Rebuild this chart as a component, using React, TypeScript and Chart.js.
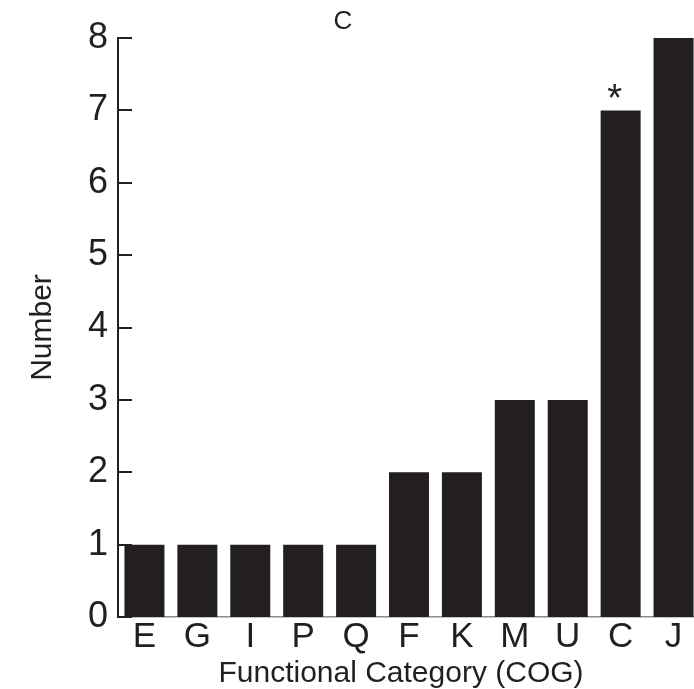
import React, { useEffect, useRef } from 'react';
import { Chart, registerables } from 'chart.js';

Chart.register(...registerables);

const categories = ['E', 'G', 'I', 'P', 'Q', 'F', 'K', 'M', 'U', 'C', 'J'];
const counts = [1, 1, 1, 1, 1, 2, 2, 3, 3, 7, 8];
const marks = ['', '', '', '', '', '', '', '', '', '*', ''];
const yTicks = [0, 1, 2, 3, 4, 5, 6, 7, 8];
const chartTitle = 'C';
const xTitle = 'Functional Category (COG)';
const yTitle = 'Number';

const INK = '#231f20';
const FONT = '"Liberation Sans", Arial, Helvetica, sans-serif';

const overlay = {
  id: 'overlay',
  afterDraw(chart: any) {
    const ctx = chart.ctx as CanvasRenderingContext2D;
    const area = chart.chartArea;
    const ys = chart.scales.y;
    ctx.save();
    // inward tick marks on the y axis
    ctx.strokeStyle = INK;
    ctx.lineWidth = 2;
    yTicks.forEach((v) => {
      const py = Math.round(ys.getPixelForValue(v));
      ctx.beginPath();
      ctx.moveTo(area.left - 1, py);
      ctx.lineTo(area.left + 14, py);
      ctx.stroke();
    });
    // significance marks
    ctx.fillStyle = INK;
    ctx.textAlign = 'center';
    ctx.textBaseline = 'alphabetic';
    ctx.font = `38px ${FONT}`;
    const meta = chart.getDatasetMeta(0);
    marks.forEach((m, i) => {
      if (!m) return;
      const bar = meta.data[i];
      ctx.fillText(m, bar.x - 6, bar.y + 1);
    });
    // panel title
    ctx.font = `26px ${FONT}`;
    ctx.fillText(chartTitle, 343, 29);
    // x axis title
    ctx.font = `30px ${FONT}`;
    ctx.fillText(xTitle, 401, 682);
    ctx.restore();
  },
};

export default function App() {
  const ref = useRef<HTMLCanvasElement | null>(null);
  useEffect(() => {
    document.body.style.margin = '0';
    const canvas = ref.current;
    if (!canvas) return;
    const chart = new Chart(canvas, {
      type: 'bar',
      data: {
        labels: categories,
        datasets: [
          {
            data: counts,
            backgroundColor: INK,
            borderWidth: 0,
            categoryPercentage: 1,
            barPercentage: 0.756,
          },
        ],
      },
      options: {
        responsive: false,
        animation: false,
        devicePixelRatio: 1,
        layout: { padding: { top: 38, right: 20, bottom: 0, left: 0 } },
        plugins: {
          legend: { display: false },
          tooltip: { enabled: false },
          title: { display: false },
        },
        scales: {
          x: {
            z: 1,
            grid: { display: false, drawTicks: false },
            border: { display: true, color: '#8c8c8c', width: 1.5 },
            ticks: {
              color: INK,
              padding: 3,
              maxRotation: 0,
              autoSkip: false,
              font: { family: FONT, size: 35, lineHeight: 1 },
            },
            afterFit: (s: any) => {
              s.height = 72;
            },
          },
          y: {
            min: 0,
            max: 8,
            grid: { display: false, drawTicks: false },
            border: { display: true, color: INK, width: 2 },
            ticks: {
              color: INK,
              padding: 10,
              font: { family: FONT, size: 36, lineHeight: 1 },
            },
            afterBuildTicks: (s: any) => {
              s.ticks = yTicks.map((v) => ({ value: v }));
            },
            title: {
              display: true,
              text: yTitle,
              color: INK,
              padding: { top: 25, bottom: 0 },
              font: { family: FONT, size: 30, lineHeight: 1.2 },
            },
            afterFit: (s: any) => {
              s.width = 118;
            },
          },
        },
      },
      plugins: [overlay],
    });
    return () => chart.destroy();
  }, []);
  return (
    <div style={{ width: 694, height: 689, overflow: 'hidden', background: '#fff' }}>
      <canvas ref={ref} width={720} height={689} style={{ display: 'block' }} />
    </div>
  );
}
